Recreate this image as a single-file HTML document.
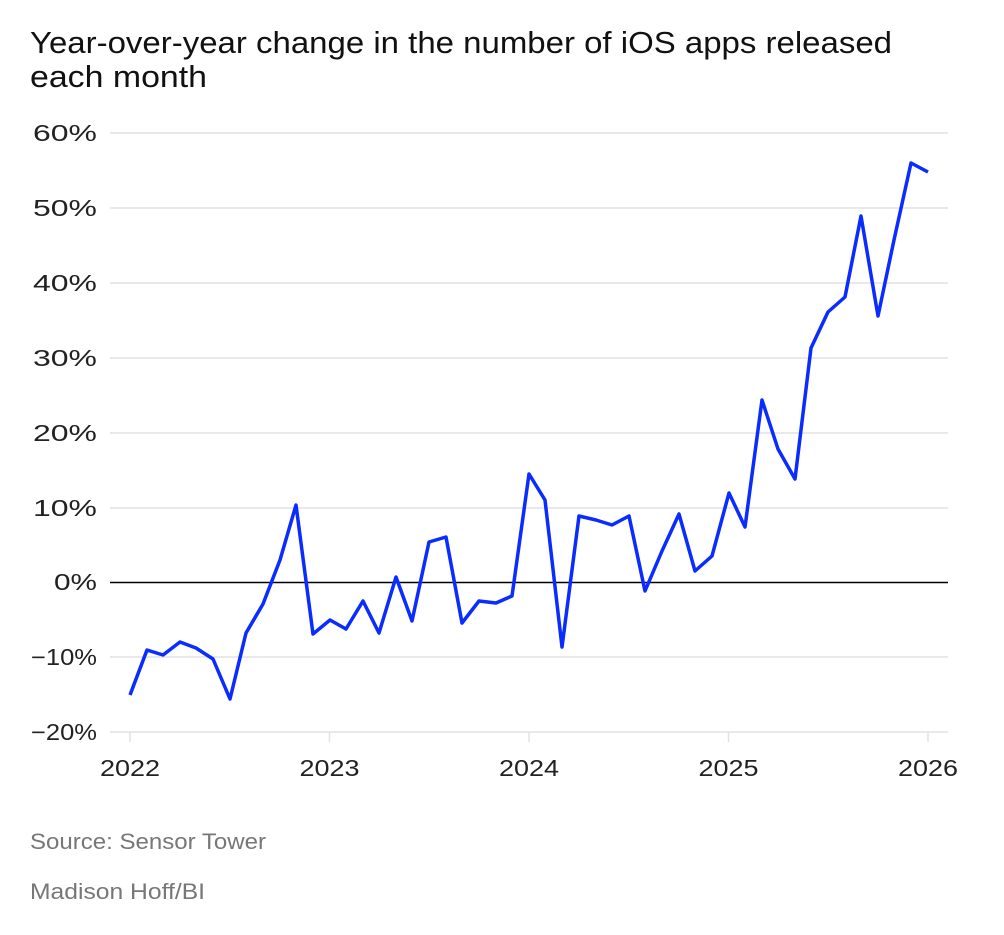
<!DOCTYPE html>
<html><head><meta charset="utf-8"><style>
body{margin:0;background:#fff;width:1004px;height:930px;overflow:hidden;font-family:"Liberation Sans",sans-serif}
</style></head><body>
<svg width="1004" height="930" xmlns="http://www.w3.org/2000/svg" font-family="Liberation Sans, sans-serif">
<text x="30" y="53" font-size="31" fill="#111" textLength="862" lengthAdjust="spacingAndGlyphs">Year-over-year change in the number of iOS apps released</text>
<text x="30" y="87" font-size="31" fill="#111" textLength="177" lengthAdjust="spacingAndGlyphs">each month</text>
<g stroke="#e2e2e2" stroke-width="1.5">
<line x1="110" x2="948" y1="133" y2="133"/><line x1="110" x2="948" y1="208" y2="208"/>
<line x1="110" x2="948" y1="283" y2="283"/><line x1="110" x2="948" y1="358" y2="358"/>
<line x1="110" x2="948" y1="433" y2="433"/><line x1="110" x2="948" y1="508" y2="508"/>
<line x1="110" x2="948" y1="657" y2="657"/><line x1="110" x2="948" y1="732" y2="732"/>
</g>
<line x1="110" x2="948" y1="582.5" y2="582.5" stroke="#000" stroke-width="1.5"/>
<g font-size="23" fill="#222">
<text x="33" y="141" textLength="64" lengthAdjust="spacingAndGlyphs">60%</text><text x="33" y="216" textLength="64" lengthAdjust="spacingAndGlyphs">50%</text><text x="33" y="291" textLength="64" lengthAdjust="spacingAndGlyphs">40%</text>
<text x="33" y="366" textLength="64" lengthAdjust="spacingAndGlyphs">30%</text><text x="33" y="441" textLength="64" lengthAdjust="spacingAndGlyphs">20%</text><text x="33" y="516" textLength="64" lengthAdjust="spacingAndGlyphs">10%</text>
<text x="54" y="590" textLength="43" lengthAdjust="spacingAndGlyphs">0%</text><text x="31" y="665" textLength="66" lengthAdjust="spacingAndGlyphs">−10%</text><text x="31" y="740" textLength="66" lengthAdjust="spacingAndGlyphs">−20%</text>
</g>
<g stroke="#e2e2e2" stroke-width="1.5"><line x1="130" x2="130" y1="732" y2="742"/><line x1="329.5" x2="329.5" y1="732" y2="742"/><line x1="529" x2="529" y1="732" y2="742"/><line x1="728.5" x2="728.5" y1="732" y2="742"/><line x1="928" x2="928" y1="732" y2="742"/></g>
<g font-size="23" fill="#222">
<text x="100" y="776" textLength="60" lengthAdjust="spacingAndGlyphs">2022</text><text x="299.5" y="776" textLength="60" lengthAdjust="spacingAndGlyphs">2023</text><text x="499" y="776" textLength="60" lengthAdjust="spacingAndGlyphs">2024</text><text x="698.5" y="776" textLength="60" lengthAdjust="spacingAndGlyphs">2025</text><text x="898" y="776" textLength="60" lengthAdjust="spacingAndGlyphs">2026</text>
</g>
<polyline fill="none" stroke="#0a2cff" stroke-width="3.5" stroke-linejoin="round" points="130,695 147,650 163,655 180,642 196,648 213,659 230,699 246,633 263,604 280,560 296,505 313,634 330,620 346,629 363,601 379,633 396,577 412,621 429,542 446,537 462,623 479,601 496,603 512,596 529,474 545,500 562,647 579,516 596,520 612,525 629,516 645,591 662,551 679,514 695,571 712,556 729,493 745,527 762,400 778,449 795,479 811,348 828,312 845,297 861,216 878,316 894,240 911,163 928,172"/>
<text x="30" y="849" font-size="22" fill="#777" textLength="236" lengthAdjust="spacingAndGlyphs">Source: Sensor Tower</text>
<text x="30" y="899" font-size="22" fill="#777" textLength="175" lengthAdjust="spacingAndGlyphs">Madison Hoff/BI</text>
</svg>
</body></html>
